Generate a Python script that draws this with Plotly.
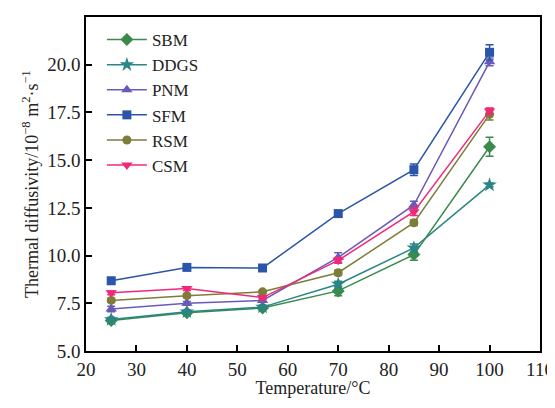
import plotly.graph_objects as go

temps = [25, 40, 55, 70, 85, 100]
names = ["SBM", "DDGS", "PNM", "SFM", "RSM", "CSM"]
sbm = [6.6, 7.0, 7.25, 8.15, 10.05, 15.7]
ddgs = [6.65, 7.05, 7.3, 8.5, 10.4, 13.7]
pnm = [7.2, 7.5, 7.65, 9.9, 12.65, 20.15]
sfm = [8.68, 9.38, 9.35, 12.2, 14.5, 20.65]
rsm = [7.65, 7.9, 8.1, 9.1, 11.72, 17.4]
csm = [8.05, 8.27, 7.8, 9.75, 12.3, 17.58]
sbm_err = [0.15, 0.1, 0.1, 0.25, 0.3, 0.5]
ddgs_err = [0.1, 0.1, 0.1, 0.15, 0.2, 0.1]
pnm_err = [0.15, 0.1, 0.1, 0.25, 0.2, 0.2]
sfm_err = [0.1, 0.1, 0.1, 0.15, 0.3, 0.4]
rsm_err = [0.1, 0.1, 0.1, 0.15, 0.15, 0.3]
csm_err = [0.1, 0.1, 0.1, 0.15, 0.2, 0.15]

series = [sbm, ddgs, pnm, sfm, rsm, csm]
errs = [sbm_err, ddgs_err, pnm_err, sfm_err, rsm_err, csm_err]
colors = ["#3a8a4c", "#2a8585", "#6a5ab8", "#2b55a8", "#7d7d3a", "#f0287a"]
symbols = ["diamond", "star", "triangle-up", "square", "circle", "triangle-down"]
sizes = [10, 11, 10, 9, 9, 10]

fig = go.Figure()
for n, s, e, c, sym, sz in zip(names, series, errs, colors, symbols, sizes):
    fig.add_trace(go.Scatter(
        x=temps, y=s, name=n, mode="lines+markers",
        line=dict(color=c, width=1.5),
        marker=dict(symbol=sym, size=sz, color=c),
        error_y=dict(type="data", array=e, visible=True, color=c, thickness=1.5, width=4),
    ))

font = "Liberation Serif, Times New Roman, serif"
fig.update_layout(
    width=547, height=390,
    margin=dict(l=78, r=15, t=9, b=47),
    paper_bgcolor="white", plot_bgcolor="white",
    font=dict(family=font, size=19, color="#222"),
    legend=dict(x=0.035, y=0.985, xanchor="left", yanchor="top",
                bgcolor="rgba(0,0,0,0)", font=dict(size=17, family=font),
                tracegroupgap=0, itemwidth=40),
    showlegend=True,
)
fig.update_xaxes(
    range=[20, 110], tickvals=[20, 30, 40, 50, 60, 70, 80, 90, 100, 110],
    ticks="inside", ticklen=6, tickwidth=1.5, tickcolor="black",
    showline=True, linecolor="black", linewidth=1.5, mirror=True,
    showgrid=False, zeroline=False, automargin=False,
    ticklabeloverflow="allow",
    title=dict(text="Temperature/°C", font=dict(size=18, family=font), standoff=10),
    tickfont=dict(size=19, family=font),
)
fig.update_yaxes(
    range=[5.0, 22.5], tickvals=[5.0, 7.5, 10.0, 12.5, 15.0, 17.5, 20.0, 22.5],
    tickformat=".1f",
    ticks="inside", ticklen=6, tickwidth=1.5, tickcolor="black",
    showline=True, linecolor="black", linewidth=1.5, mirror=True,
    showgrid=False, zeroline=False, automargin=False,
    title=dict(text="Thermal diffusivity/10<sup>−8</sup> m<sup>2</sup>·s<sup>−1</sup>",
               font=dict(size=18, family=font), standoff=4),
    tickfont=dict(size=19, family=font),
)
fig.write_html("out.html")
